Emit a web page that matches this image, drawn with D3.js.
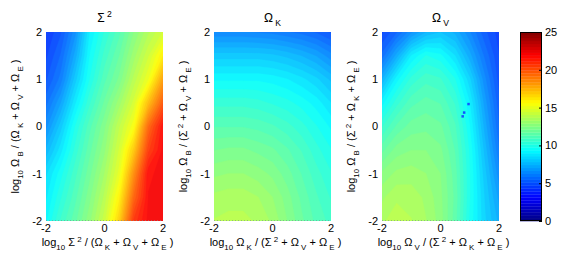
<!DOCTYPE html>
<html>
<head>
<meta charset="utf-8">
<script src="https://cdn.jsdelivr.net/npm/d3@7"></script>
<style>
  body { margin: 0; background: #fff; }
  svg { display: block; font-family: "Liberation Sans", Arial, sans-serif; }
  text { white-space: pre; fill: #000; }
</style>
</head>
<body>
<svg id="chart" width="564" height="256"></svg>
<script>
// grid positions (log10 ratios) for columns and rows; rows run from top (2) to bottom (-2)
const xGrid = [-2, -1.5, -1, -0.5, 0, 0.5, 1, 1.5, 2];
const yGrid = [2, 1.5, 1, 0.5, 0, -0.5, -1, -1.5, -2];

// values, one row per yGrid entry
const sigma2Values = [
  [4.3, 5.0, 6.5, 9.0, 10.2, 11.2, 12.5, 13.6, 14.5],
  [4.6, 5.5, 7.2, 9.4, 10.7, 11.7, 13.1, 14.4, 16.0],
  [5.0, 6.0, 8.0, 9.8, 11.2, 12.2, 13.8, 15.2, 18.0],
  [5.7, 7.0, 8.9, 10.5, 11.8, 13.1, 14.6, 17.3, 19.9],
  [6.5, 8.0, 9.8, 11.2, 12.4, 14.0, 15.5, 19.5, 21.8],
  [7.5, 8.8, 10.3, 11.6, 12.8, 14.5, 17.0, 20.6, 22.0],
  [8.5, 9.6, 10.8, 12.0, 13.3, 15.0, 18.5, 21.8, 22.0],
  [8.9, 10.1, 11.2, 12.4, 13.8, 15.9, 19.6, 21.9, 22.0],
  [9.3, 10.6, 11.6, 12.8, 14.3, 16.8, 20.8, 22.0, 22.0]
];

const omegaKValues = [
  [6.3, 6.3, 6.3, 6.2, 6.1, 5.9, 5.7, 5.4, 5.0],
  [8.0, 8.0, 8.0, 8.0, 7.9, 7.7, 7.4, 7.0, 6.4],
  [9.3, 9.3, 9.3, 9.3, 9.2, 9.0, 8.7, 8.3, 7.7],
  [10.4, 10.4, 10.4, 10.3, 10.1, 9.9, 9.6, 9.2, 8.6],
  [11.3, 11.3, 11.3, 11.2, 11.0, 10.7, 10.3, 9.8, 9.3],
  [12.1, 12.2, 12.2, 12.0, 11.8, 11.4, 10.9, 10.3, 9.8],
  [12.8, 12.9, 12.9, 12.7, 12.4, 11.9, 11.3, 10.7, 10.2],
  [13.4, 13.5, 13.5, 13.3, 12.9, 12.3, 11.6, 11.0, 10.5],
  [13.7, 13.8, 13.8, 13.6, 13.2, 12.5, 11.8, 11.2, 10.8]
];

const omegaVValues = [
  [4.6, 5.4, 6.5, 7.4, 7.8, 7.3, 6.3, 5.2, 4.5],
  [5.6, 7.2, 9.0, 9.8, 9.5, 8.6, 7.2, 5.8, 4.7],
  [7.4, 9.2, 10.3, 10.8, 10.6, 9.8, 8.3, 6.4, 4.9],
  [9.2, 10.4, 11.2, 11.5, 11.3, 10.5, 9.0, 6.9, 5.2],
  [10.5, 11.4, 11.9, 12.0, 11.8, 11.0, 9.4, 7.3, 5.5],
  [11.6, 12.3, 12.5, 12.5, 12.2, 11.3, 9.7, 7.7, 5.9],
  [12.6, 13.0, 13.1, 12.9, 12.5, 11.5, 9.8, 8.0, 6.4],
  [13.2, 13.6, 13.5, 13.2, 12.6, 11.6, 9.8, 8.2, 6.9],
  [13.6, 13.9, 13.7, 13.3, 12.7, 11.5, 9.7, 8.3, 7.3]
];

// stray low cells in the Omega_V panel: [x, y, value]
const omegaVSpots = [[0.95, 0.48, 5], [0.8, 0.3, 5], [0.75, 0.22, 5]];

const panelTitles = ["Σ^{ 2}", "Ω_{ K}", "Ω_{ V}"];
const xLabels = [
  "log_{10} Σ^{ 2} / (Ω_{ K} + Ω_{ V} + Ω_{ E} )",
  "log_{10} Ω_{ K} / (Σ^{ 2} + Ω_{ V} + Ω_{ E} )",
  "log_{10} Ω_{ V} / (Σ^{ 2} + Ω_{ K} + Ω_{ E} )"
];
const yLabels = [
  "log_{10} Ω_{ B} / (Ω_{ K} + Ω_{ V} + Ω_{ E} )",
  "log_{10} Ω_{ B} / (Σ^{ 2} + Ω_{ V} + Ω_{ E} )",
  "log_{10} Ω_{ B} / (Σ^{ 2} + Ω_{ K} + Ω_{ E} )"
];
const xTicks = [-2, 0, 2];
const yTicks = [-2, -1, 0, 1, 2];
const colorTicks = [0, 5, 10, 15, 20, 25];
const colorDomain = [0, 25];
const colorLevels = 64;

const svg = d3.select("#chart");
const fontSize = 11;
const panelLefts = [46, 214, 382];
const panelWidth = 117;
const plotTop = 32;
const plotBottom = 221;

// MATLAB style jet map, quantised to 64 levels
const jet = d3.scaleLinear()
  .domain([0, 1 / 8, 3 / 8, 5 / 8, 7 / 8, 1])
  .range(["#000080", "#0000ff", "#00ffff", "#ffff00", "#ff0000", "#800000"])
  .interpolate(d3.interpolateRgb);
const levelStep = (colorDomain[1] - colorDomain[0]) / colorLevels;
const levelColor = i => jet((i + 0.5) / colorLevels);
const valueColor = v => levelColor(Math.max(0, Math.min(colorLevels - 1, Math.floor((v - colorDomain[0]) / levelStep))));

const y = d3.scaleLinear().domain([-2, 2]).range([plotBottom, plotTop]);

function addRich(textSel, str, size) {
  const re = /([_^])\{([^}]*)\}|([^_^]+)/g;
  let shift = 0;
  let m;
  while ((m = re.exec(str))) {
    let target = 0;
    let fs = size;
    let content = m[3];
    if (m[1]) {
      content = m[2];
      fs = size * 0.72;
      target = m[1] === "_" ? size * 0.32 : -size * 0.38;
    }
    textSel.append("tspan")
      .attr("dy", target - shift)
      .attr("font-size", fs)
      .text(content);
    shift = target;
  }
}

const panels = [sigma2Values, omegaKValues, omegaVValues];

panels.forEach((values, p) => {
  const left = panelLefts[p];
  const x = d3.scaleLinear().domain([-2, 2]).range([left, left + panelWidth]);
  const nx = xGrid.length;
  const ny = yGrid.length;

  // contour grid coordinates -> pixels (sample i sits at i + 0.5)
  const gx = d3.scaleLinear().domain([0.5, nx - 0.5]).range([x(xGrid[0]), x(xGrid[nx - 1])]);
  const gy = d3.scaleLinear().domain([0.5, ny - 0.5]).range([y(yGrid[0]), y(yGrid[ny - 1])]);
  const path = d3.geoPath(d3.geoTransform({
    point(px, py) { this.stream.point(gx(px), gy(py)); }
  }));

  const flat = values.flat();
  const thresholds = d3.range(colorLevels).map(i => colorDomain[0] + i * levelStep);
  thresholds[0] = -1e9;
  const bands = d3.contours().size([nx, ny]).thresholds(thresholds)(flat);

  svg.append("clipPath").attr("id", "clip" + p)
    .append("rect")
    .attr("x", left).attr("y", plotTop)
    .attr("width", panelWidth).attr("height", plotBottom - plotTop);

  const g = svg.append("g")
    .attr("clip-path", `url(#clip${p})`)
    .attr("opacity", 0.93);
  g.selectAll("path")
    .data(bands)
    .join("path")
    .attr("d", path)
    .attr("fill", (d, i) => levelColor(i))
    .attr("stroke", (d, i) => levelColor(i))
    .attr("stroke-width", 0.3);

  if (p === 2) {
    g.selectAll("rect.spot")
      .data(omegaVSpots)
      .join("rect")
      .attr("class", "spot")
      .attr("x", d => x(d[0]) - 1)
      .attr("y", d => y(d[1]) - 1)
      .attr("width", 2.5)
      .attr("height", 2.5)
      .attr("fill", d => valueColor(d[2]));
  }

  // faint dotted seam along the bottom edge
  svg.append("line")
    .attr("x1", left).attr("x2", left + panelWidth)
    .attr("y1", plotBottom - 0.5).attr("y2", plotBottom - 0.5)
    .attr("stroke", "#7a8a90")
    .attr("stroke-opacity", 0.6)
    .attr("stroke-dasharray", "1,2");

  // tick labels
  svg.append("g").selectAll("text")
    .data(xTicks)
    .join("text")
    .attr("x", d => x(d))
    .attr("y", 231.5)
    .attr("text-anchor", "middle")
    .attr("font-size", fontSize)
    .text(d => d);

  svg.append("g").selectAll("text")
    .data(yTicks)
    .join("text")
    .attr("x", left - 4)
    .attr("y", d => y(d))
    .attr("dy", "0.36em")
    .attr("text-anchor", "end")
    .attr("font-size", fontSize)
    .text(d => d);

  const cx = left + panelWidth / 2;
  addRich(svg.append("text")
    .attr("x", cx).attr("y", 22)
    .attr("text-anchor", "middle")
    .attr("font-size", 12), panelTitles[p], 12);

  addRich(svg.append("text")
    .attr("x", cx + 3).attr("y", 246)
    .attr("text-anchor", "middle")
    .attr("font-size", fontSize), xLabels[p], fontSize);

  addRich(svg.append("text")
    .attr("transform", `translate(${left - 27},${(plotTop + plotBottom) / 2}) rotate(-90)`)
    .attr("text-anchor", "middle")
    .attr("font-size", fontSize), yLabels[p], fontSize);
});

// colorbar
const cbLeft = 520;
const cbWidth = 22;
const cbY = d3.scaleLinear().domain(colorDomain).range([plotBottom, plotTop]);

svg.append("g").selectAll("rect")
  .data(d3.range(colorLevels))
  .join("rect")
  .attr("x", cbLeft)
  .attr("y", i => cbY(colorDomain[0] + (i + 1) * levelStep))
  .attr("width", cbWidth)
  .attr("height", i => cbY(colorDomain[0] + i * levelStep) - cbY(colorDomain[0] + (i + 1) * levelStep) + 0.3)
  .attr("fill", i => levelColor(i));

svg.append("rect")
  .attr("x", cbLeft + 0.5).attr("y", plotTop + 0.5)
  .attr("width", cbWidth - 1).attr("height", plotBottom - plotTop - 1)
  .attr("fill", "none")
  .attr("stroke", "#000");

const cbAxis = svg.append("g");
cbAxis.selectAll("line")
  .data(colorTicks)
  .join("line")
  .attr("x1", cbLeft + cbWidth - 3).attr("x2", cbLeft + cbWidth)
  .attr("y1", d => cbY(d) + 0.5).attr("y2", d => cbY(d) + 0.5)
  .attr("stroke", "#000");
cbAxis.selectAll("text")
  .data(colorTicks)
  .join("text")
  .attr("x", cbLeft + cbWidth + 3)
  .attr("y", d => cbY(d))
  .attr("dy", "0.36em")
  .attr("font-size", fontSize)
  .text(d => d);
</script>
</body>
</html>
